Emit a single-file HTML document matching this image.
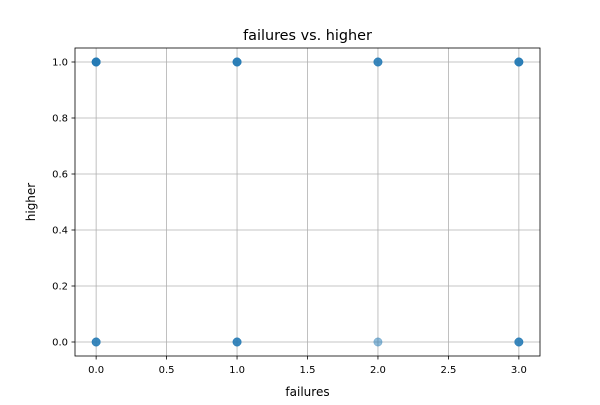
<!DOCTYPE html>
<html><head><meta charset="utf-8"><style>
html,body{margin:0;padding:0;background:#fff;}
svg text{font-family:"DejaVu Sans","Liberation Sans",sans-serif;fill:#000;}
</style></head><body>
<svg id="chart" width="600" height="400" xmlns="http://www.w3.org/2000/svg">
<rect width="600" height="400" fill="#fff"/>
<g id="grid"></g>
<g id="points"></g>
<g id="ticks"></g>
<rect x="75" y="48" width="465" height="308" fill="none" stroke="#000" stroke-width="0.8"/>
<text x="307.5" y="40" font-size="14.4" text-anchor="middle">failures vs. higher</text>
<text x="307.5" y="396" font-size="12" text-anchor="middle">failures</text>
<text x="35" y="202" font-size="12" text-anchor="middle" transform="rotate(-90 35 202)">higher</text>
</svg>
<script>
const xTicks=[0,0.5,1,1.5,2,2.5,3];
const xTickLabels=["0.0","0.5","1.0","1.5","2.0","2.5","3.0"];
const yTicks=[0,0.2,0.4,0.6,0.8,1];
const yTickLabels=["0.0","0.2","0.4","0.6","0.8","1.0"];
const failures=[0,0,0,0,0,1,1,1,1,2,2,2,3,3,3,3,0,0,0,1,1,1,2,3,3,3];
const higher=[1,1,1,1,1,1,1,1,1,1,1,1,1,1,1,1,0,0,0,0,0,0,0,0,0,0];
const X0=75,X1=540,Y0=356,Y1=48,XMIN=-0.15,XMAX=3.15,YMIN=-0.05,YMAX=1.05;
function sx(v){return X0+(v-XMIN)/(XMAX-XMIN)*(X1-X0);}
function sy(v){return Y0-(v-YMIN)/(YMAX-YMIN)*(Y0-Y1);}
const NS="http://www.w3.org/2000/svg";
const grid=document.getElementById('grid'),ticks=document.getElementById('ticks'),pts=document.getElementById('points');
function mk(tag,attrs,parent){const e=document.createElementNS(NS,tag);for(const k in attrs)e.setAttribute(k,attrs[k]);parent.appendChild(e);return e;}
xTicks.forEach((t,i)=>{
  const x=sx(t);
  const g=mk('line',{x1:x,x2:x,y1:Y1,y2:Y0,stroke:'#b0b0b0','stroke-width':0.8},grid);
  
  
  mk('line',{x1:x,x2:x,y1:Y0,y2:Y0+3.5,stroke:'#000','stroke-width':0.8},ticks);
  const tx=mk('text',{x:x,y:Y0+17,'font-size':10,'text-anchor':'middle'},ticks);
  tx.textContent=xTickLabels[i];
  
  
});
yTicks.forEach((t,i)=>{
  const y=sy(t);
  const g=mk('line',{x1:X0,x2:X1,y1:y,y2:y,stroke:'#b0b0b0','stroke-width':0.8},grid);
  
  
  mk('line',{x1:X0-3.5,x2:X0,y1:y,y2:y,stroke:'#000','stroke-width':0.8},ticks);
  const tx=mk('text',{x:X0-7,y:y+3.5,'font-size':10,'text-anchor':'end'},ticks);
  tx.textContent=yTickLabels[i];
  
  
});
failures.forEach((f,i)=>{
  const c=mk('circle',{cx:sx(f),cy:sy(higher[i]),r:4.2,fill:'#1f77b4','fill-opacity':0.5,stroke:'#1f77b4','stroke-opacity':0.5,'stroke-width':0.5},pts);
  
  
});
</script>
</body></html>
